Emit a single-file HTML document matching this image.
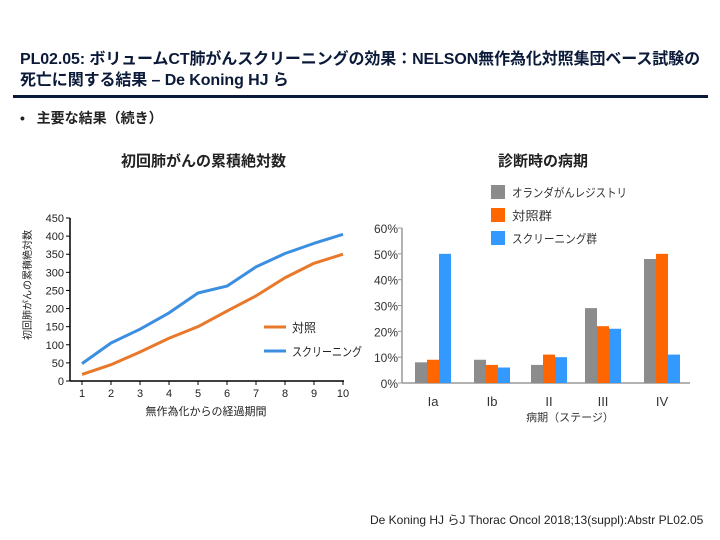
<!DOCTYPE html>
<html><head><meta charset="utf-8"><style>
body{margin:0;background:#fff;}
#root{position:relative;width:720px;height:540px;overflow:hidden;font-family:"Liberation Sans","Noto Sans CJK JP",sans-serif;}
.t{position:absolute;white-space:nowrap;}
</style></head><body>
<div id="root">
<div class="t" style="left:20px;top:49px;font-size:16px;font-weight:bold;color:#0c1a3a;line-height:21px;letter-spacing:-0.1px">PL02.05: ボリュームCT肺がんスクリーニングの効果：NELSON無作為化対照集団ベース試験の<br>死亡に関する結果 – De Koning HJ ら</div>
<div style="position:absolute;left:13px;top:95px;width:695px;height:3px;background:#0c1a3a"></div>
<div class="t" style="left:20px;top:108px;font-size:14px;font-weight:bold;color:#222">•&nbsp;&nbsp;&nbsp;主要な結果（続き）</div>
<div class="t" style="left:121px;top:150px;font-size:15px;font-weight:bold;color:#222">初回肺がんの累積絶対数</div>
<div class="t" style="left:498px;top:150px;font-size:15px;font-weight:bold;color:#222">診断時の病期</div>
<div class="t" style="left:370px;top:511px;font-size:12px;color:#222">De Koning HJ らJ Thorac Oncol 2018;13(suppl):Abstr PL02.05</div>
<svg id="svg" width="720" height="540" style="position:absolute;left:0;top:0" font-family="Liberation Sans, Noto Sans CJK JP, sans-serif"></svg>
</div>
<script>
const years=[1,2,3,4,5,6,7,8,9,10];
const controlVals=[18,45,80,118,150,193,235,285,325,350];
const screeningVals=[48,105,143,188,243,262,315,352,380,405];
const yTicks=[0,50,100,150,200,250,300,350,400,450];
const stages=["Ia","Ib","II","III","IV"];
const registryVals=[8,9,7,29,48];
const controlGroupVals=[9,7,11,22,50];
const screeningGroupVals=[50,6,10,21,11];
const pctTicks=[0,10,20,30,40,50,60];

const svg=document.getElementById('svg');
const NS='http://www.w3.org/2000/svg';
function mk(tag,attrs,name,text){const e=document.createElementNS(NS,tag);for(const k in attrs)e.setAttribute(k,attrs[k]);


if(text!==undefined)e.textContent=text;svg.appendChild(e);return e;}
const lx=v=>82+(v-1)*(343-82)/9;
const ly=v=>381-v*(381-218)/450;
mk('line',{x1:70,y1:218,x2:70,y2:381,stroke:'#000','stroke-width':1.5},'y-axis-line');
mk('line',{x1:70,y1:381,x2:344,y2:381,stroke:'#000','stroke-width':1.5},'x-axis-line');
yTicks.forEach(t=>{mk('line',{x1:66,y1:ly(t),x2:70,y2:ly(t),stroke:'#000'},'y-tick');
mk('text',{x:64,y:ly(t)+4,'text-anchor':'end','font-size':11,fill:'#222'},'y-tick-label',t);});
years.forEach(t=>{mk('line',{x1:lx(t),y1:381,x2:lx(t),y2:385,stroke:'#000'},'x-tick');
mk('text',{x:lx(t),y:397,'text-anchor':'middle','font-size':11,fill:'#222'},'x-tick-label',t);});
mk('text',{x:206,y:415,'text-anchor':'middle','font-size':11,fill:'#222'},'x-axis-title','無作為化からの経過期間');
mk('text',{x:0,y:0,transform:'translate(31,285) rotate(-90)','text-anchor':'middle','font-size':10,fill:'#222'},'y-axis-title','初回肺がんの累積絶対数');
mk('polyline',{points:years.map((y,i)=>lx(y)+','+ly(controlVals[i])).join(' '),fill:'none',stroke:'#e8782a','stroke-width':3,'stroke-linejoin':'round'},'control-line');
mk('polyline',{points:years.map((y,i)=>lx(y)+','+ly(screeningVals[i])).join(' '),fill:'none',stroke:'#3b8ee0','stroke-width':3,'stroke-linejoin':'round'},'screening-line');
mk('line',{x1:264,y1:327,x2:286,y2:327,stroke:'#e8782a','stroke-width':3},'legend-control-swatch');
mk('text',{x:292,y:332,'font-size':12,fill:'#222'},'legend-control-label','対照');
mk('line',{x1:264,y1:351,x2:286,y2:351,stroke:'#3b8ee0','stroke-width':3},'legend-screening-swatch');
mk('text',{x:292,y:356,'font-size':12,fill:'#222',textLength:70,lengthAdjust:'spacingAndGlyphs'},'legend-screening-label','スクリーニング');
const by=v=>383-v*(383-228)/60;
const gx=[433,492,549,603,662];
mk('line',{x1:402,y1:228,x2:402,y2:383,stroke:'#999','stroke-width':1.5},'bar-y-axis-line');
mk('line',{x1:402,y1:383,x2:690,y2:383,stroke:'#999','stroke-width':1.5},'bar-x-axis-line');
pctTicks.forEach(t=>{mk('line',{x1:398,y1:by(t),x2:402,y2:by(t),stroke:'#999'},'bar-y-tick');
mk('text',{x:398,y:by(t)+5,'text-anchor':'end','font-size':12,fill:'#333'},'bar-y-tick-label',t+'%');});
const series=[[registryVals,'#8c8c8c',-18,'registry'],[controlGroupVals,'#ff6600',-6,'control-group'],[screeningGroupVals,'#3399ff',6,'screening-group']];
stages.forEach((s,i)=>{
 series.forEach(([vals,c,off,nm])=>{mk('rect',{x:gx[i]+off,y:by(vals[i]),width:12,height:383-by(vals[i]),fill:c},'bar-'+nm+'-'+s);});
 mk('text',{x:gx[i],y:406,'text-anchor':'middle','font-size':13,fill:'#333'},'bar-x-tick-label',s);
});
mk('text',{x:570,y:421,'text-anchor':'middle','font-size':11,fill:'#333'},'bar-x-axis-title','病期（ステージ）');
[['#8c8c8c','オランダがんレジストリ',115],['#ff6600','対照群',40],['#3399ff','スクリーニング群',85]].forEach(([c,l,w],i)=>{
 mk('rect',{x:491,y:192+i*23-7,width:14,height:14,fill:c},'legend-swatch');
 mk('text',{x:512,y:192+i*23+5,'font-size':12,fill:'#333',textLength:w,lengthAdjust:'spacingAndGlyphs'},'legend-label',l);
});
</script>
</body></html>
